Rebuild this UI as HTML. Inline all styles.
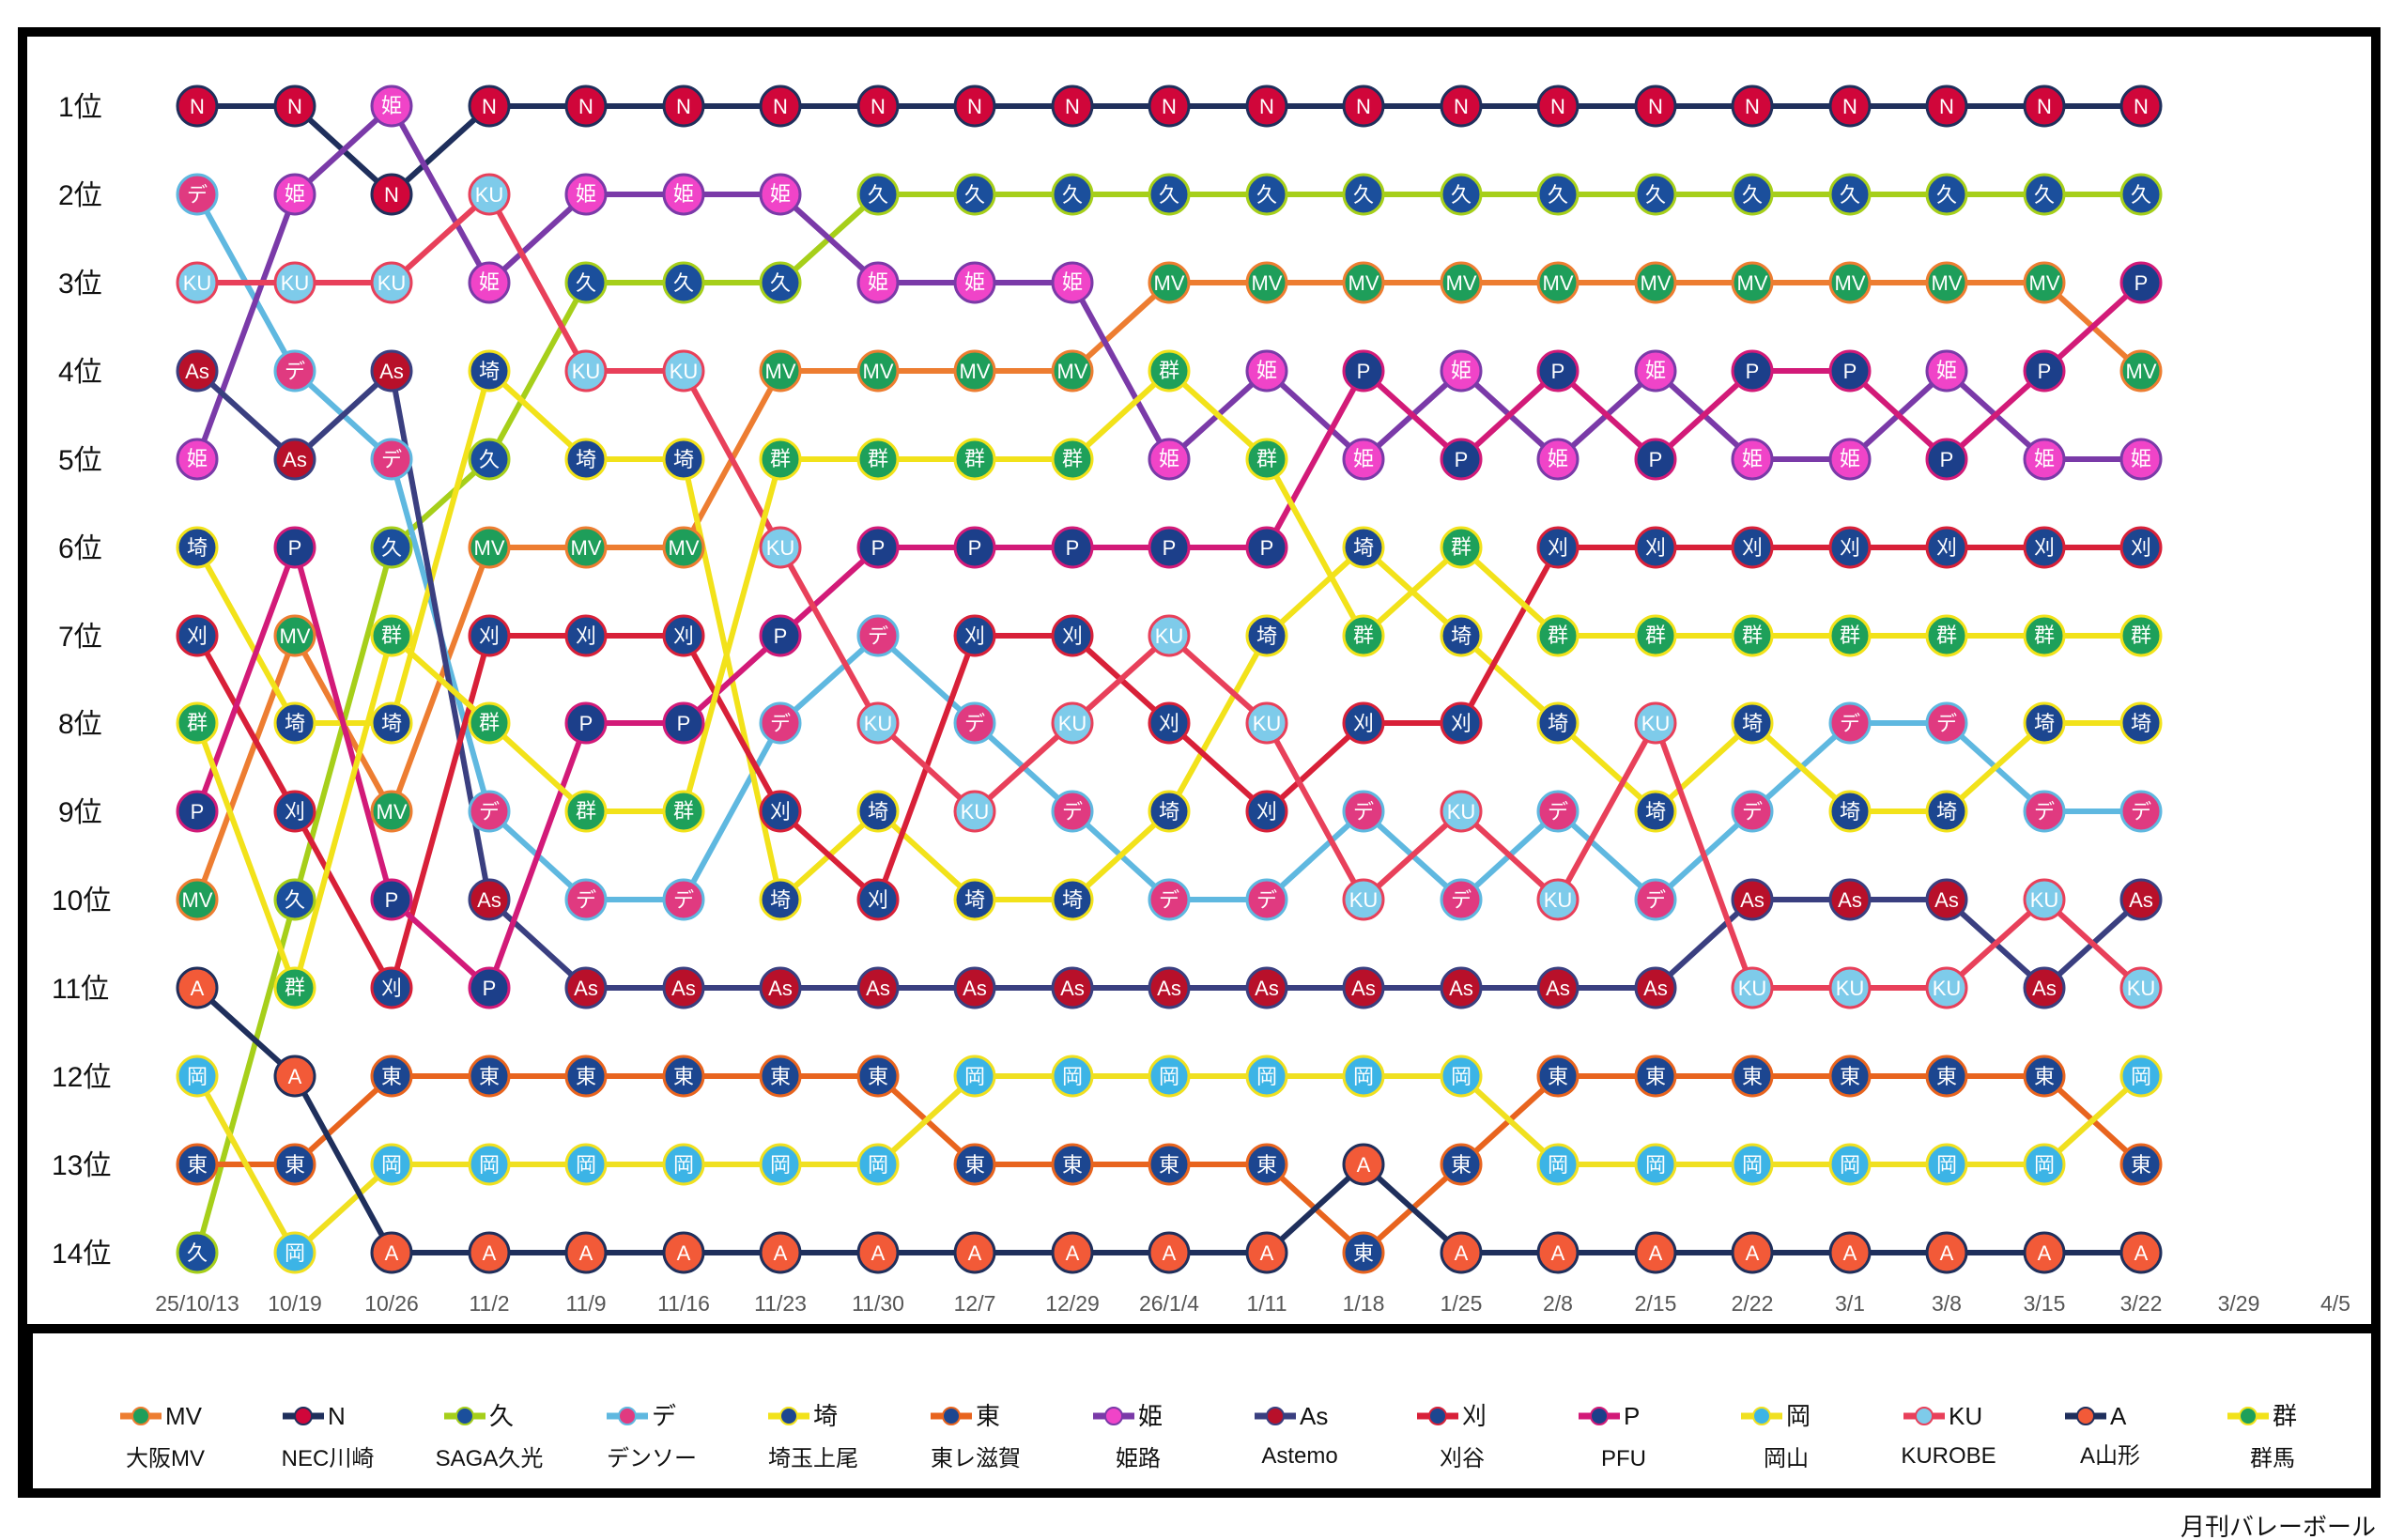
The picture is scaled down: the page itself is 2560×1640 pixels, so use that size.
<!DOCTYPE html>
<html><head><meta charset="utf-8"><style>
html,body{margin:0;padding:0;background:#fff;width:2560px;height:1640px;overflow:hidden}
svg{display:block}
text{font-family:"Liberation Sans","Noto Sans CJK JP",sans-serif}
.ln{fill:none;stroke-width:6;stroke-linejoin:round}
.c circle{stroke-width:3}
.c text{fill:#fff;font-size:22px;text-anchor:middle}
.rk{font-size:30px;fill:#111}
.dt{font-size:23px;fill:#555;text-anchor:middle}
.lg{font-size:26px;fill:#111}
.nm{font-size:24px;fill:#111;text-anchor:middle}
</style></head><body>
<svg width="2560" height="1640" viewBox="0 0 2560 1640" xmlns="http://www.w3.org/2000/svg">
<rect x="24" y="34" width="2506" height="1556" fill="none" stroke="#000" stroke-width="10"/>
<line x1="19" y1="1415" x2="2535" y2="1415" stroke="#000" stroke-width="10"/>
<rect x="19" y="1415" width="16" height="180" fill="#000"/>

<g class="rk">
<text x="62" y="124">1位</text><text x="62" y="218">2位</text><text x="62" y="312">3位</text><text x="62" y="406">4位</text><text x="62" y="500">5位</text><text x="62" y="594">6位</text><text x="62" y="688">7位</text><text x="62" y="781">8位</text><text x="62" y="875">9位</text><text x="55" y="969">10位</text><text x="55" y="1063">11位</text><text x="55" y="1157">12位</text><text x="55" y="1251">13位</text><text x="55" y="1345">14位</text>
</g>
<g class="dt">
<text x="210" y="1396">25/10/13</text><text x="314" y="1396">10/19</text><text x="417" y="1396">10/26</text><text x="521" y="1396">11/2</text><text x="624" y="1396">11/9</text><text x="728" y="1396">11/16</text><text x="831" y="1396">11/23</text><text x="935" y="1396">11/30</text><text x="1038" y="1396">12/7</text><text x="1142" y="1396">12/29</text><text x="1245" y="1396">26/1/4</text><text x="1349" y="1396">1/11</text><text x="1452" y="1396">1/18</text><text x="1556" y="1396">1/25</text><text x="1659" y="1396">2/8</text><text x="1763" y="1396">2/15</text><text x="1866" y="1396">2/22</text><text x="1970" y="1396">3/1</text><text x="2073" y="1396">3/8</text><text x="2177" y="1396">3/15</text><text x="2280" y="1396">3/22</text><text x="2384" y="1396">3/29</text><text x="2487" y="1396">4/5</text>
</g>

<!-- lines -->
<polyline class="ln" stroke="#ed7d31" points="210,958 314,677 417,864 521,583 624,583 728,583 831,395 935,395 1038,395 1142,395 1245,301 1349,301 1452,301 1556,301 1659,301 1763,301 1866,301 1970,301 2073,301 2177,301 2280,395"/>
<polyline class="ln" stroke="#1f2f5c" points="210,113 314,113 417,207 521,113 624,113 728,113 831,113 935,113 1038,113 1142,113 1245,113 1349,113 1452,113 1556,113 1659,113 1763,113 1866,113 1970,113 2073,113 2177,113 2280,113"/>
<polyline class="ln" stroke="#a6cf1a" points="210,1334 314,958 417,583 521,489 624,301 728,301 831,301 935,207 1038,207 1142,207 1245,207 1349,207 1452,207 1556,207 1659,207 1763,207 1866,207 1970,207 2073,207 2177,207 2280,207"/>
<polyline class="ln" stroke="#5fb8e0" points="210,207 314,395 417,489 521,864 624,958 728,958 831,770 935,677 1038,770 1142,864 1245,958 1349,958 1452,864 1556,958 1659,864 1763,958 1866,864 1970,770 2073,770 2177,864 2280,864"/>
<polyline class="ln" stroke="#f2e21a" points="210,583 314,770 417,770 521,395 624,489 728,489 831,958 935,864 1038,958 1142,958 1245,864 1349,677 1452,583 1556,677 1659,770 1763,864 1866,770 1970,864 2073,864 2177,770 2280,770"/>
<polyline class="ln" stroke="#e8641e" points="210,1240 314,1240 417,1146 521,1146 624,1146 728,1146 831,1146 935,1146 1038,1240 1142,1240 1245,1240 1349,1240 1452,1334 1556,1240 1659,1146 1763,1146 1866,1146 1970,1146 2073,1146 2177,1146 2280,1240"/>
<polyline class="ln" stroke="#7a3aa8" points="210,489 314,207 417,113 521,301 624,207 728,207 831,207 935,301 1038,301 1142,301 1245,489 1349,395 1452,489 1556,395 1659,489 1763,395 1866,489 1970,489 2073,395 2177,489 2280,489"/>
<polyline class="ln" stroke="#3a3f80" points="210,395 314,489 417,395 521,958 624,1052 728,1052 831,1052 935,1052 1038,1052 1142,1052 1245,1052 1349,1052 1452,1052 1556,1052 1659,1052 1763,1052 1866,958 1970,958 2073,958 2177,1052 2280,958"/>
<polyline class="ln" stroke="#d82038" points="210,677 314,864 417,1052 521,677 624,677 728,677 831,864 935,958 1038,677 1142,677 1245,770 1349,864 1452,770 1556,770 1659,583 1763,583 1866,583 1970,583 2073,583 2177,583 2280,583"/>
<polyline class="ln" stroke="#d21a78" points="210,864 314,583 417,958 521,1052 624,770 728,770 831,677 935,583 1038,583 1142,583 1245,583 1349,583 1452,395 1556,489 1659,395 1763,489 1866,395 1970,395 2073,489 2177,395 2280,301"/>
<polyline class="ln" stroke="#f0e020" points="210,1146 314,1334 417,1240 521,1240 624,1240 728,1240 831,1240 935,1240 1038,1146 1142,1146 1245,1146 1349,1146 1452,1146 1556,1146 1659,1240 1763,1240 1866,1240 1970,1240 2073,1240 2177,1240 2280,1146"/>
<polyline class="ln" stroke="#e8405a" points="210,301 314,301 417,301 521,207 624,395 728,395 831,583 935,770 1038,864 1142,770 1245,677 1349,770 1452,958 1556,864 1659,958 1763,770 1866,1052 1970,1052 2073,1052 2177,958 2280,1052"/>
<polyline class="ln" stroke="#1f2f5c" points="210,1052 314,1146 417,1334 521,1334 624,1334 728,1334 831,1334 935,1334 1038,1334 1142,1334 1245,1334 1349,1334 1452,1240 1556,1334 1659,1334 1763,1334 1866,1334 1970,1334 2073,1334 2177,1334 2280,1334"/>
<polyline class="ln" stroke="#f2e21a" points="210,770 314,1052 417,677 521,770 624,864 728,864 831,489 935,489 1038,489 1142,489 1245,395 1349,489 1452,677 1556,583 1659,677 1763,677 1866,677 1970,677 2073,677 2177,677 2280,677"/>

<!-- MV -->
<g class="c" fill="#1e9e5a" stroke="#ed7d31"><circle cx="210" cy="958" r="21"/><circle cx="314" cy="677" r="21"/><circle cx="417" cy="864" r="21"/><circle cx="521" cy="583" r="21"/><circle cx="624" cy="583" r="21"/><circle cx="728" cy="583" r="21"/><circle cx="831" cy="395" r="21"/><circle cx="935" cy="395" r="21"/><circle cx="1038" cy="395" r="21"/><circle cx="1142" cy="395" r="21"/><circle cx="1245" cy="301" r="21"/><circle cx="1349" cy="301" r="21"/><circle cx="1452" cy="301" r="21"/><circle cx="1556" cy="301" r="21"/><circle cx="1659" cy="301" r="21"/><circle cx="1763" cy="301" r="21"/><circle cx="1866" cy="301" r="21"/><circle cx="1970" cy="301" r="21"/><circle cx="2073" cy="301" r="21"/><circle cx="2177" cy="301" r="21"/><circle cx="2280" cy="395" r="21"/>
<g stroke="none"><text x="210" y="966">MV</text><text x="314" y="685">MV</text><text x="417" y="872">MV</text><text x="521" y="591">MV</text><text x="624" y="591">MV</text><text x="728" y="591">MV</text><text x="831" y="403">MV</text><text x="935" y="403">MV</text><text x="1038" y="403">MV</text><text x="1142" y="403">MV</text><text x="1245" y="309">MV</text><text x="1349" y="309">MV</text><text x="1452" y="309">MV</text><text x="1556" y="309">MV</text><text x="1659" y="309">MV</text><text x="1763" y="309">MV</text><text x="1866" y="309">MV</text><text x="1970" y="309">MV</text><text x="2073" y="309">MV</text><text x="2177" y="309">MV</text><text x="2280" y="403">MV</text></g></g>
<!-- N -->
<g class="c" fill="#d0063a" stroke="#1f2f5c"><circle cx="210" cy="113" r="21"/><circle cx="314" cy="113" r="21"/><circle cx="417" cy="207" r="21"/><circle cx="521" cy="113" r="21"/><circle cx="624" cy="113" r="21"/><circle cx="728" cy="113" r="21"/><circle cx="831" cy="113" r="21"/><circle cx="935" cy="113" r="21"/><circle cx="1038" cy="113" r="21"/><circle cx="1142" cy="113" r="21"/><circle cx="1245" cy="113" r="21"/><circle cx="1349" cy="113" r="21"/><circle cx="1452" cy="113" r="21"/><circle cx="1556" cy="113" r="21"/><circle cx="1659" cy="113" r="21"/><circle cx="1763" cy="113" r="21"/><circle cx="1866" cy="113" r="21"/><circle cx="1970" cy="113" r="21"/><circle cx="2073" cy="113" r="21"/><circle cx="2177" cy="113" r="21"/><circle cx="2280" cy="113" r="21"/>
<g stroke="none"><text x="210" y="121">N</text><text x="314" y="121">N</text><text x="417" y="215">N</text><text x="521" y="121">N</text><text x="624" y="121">N</text><text x="728" y="121">N</text><text x="831" y="121">N</text><text x="935" y="121">N</text><text x="1038" y="121">N</text><text x="1142" y="121">N</text><text x="1245" y="121">N</text><text x="1349" y="121">N</text><text x="1452" y="121">N</text><text x="1556" y="121">N</text><text x="1659" y="121">N</text><text x="1763" y="121">N</text><text x="1866" y="121">N</text><text x="1970" y="121">N</text><text x="2073" y="121">N</text><text x="2177" y="121">N</text><text x="2280" y="121">N</text></g></g>
<!-- 久 -->
<g class="c" fill="#1b4f9c" stroke="#a6cf1a"><circle cx="210" cy="1334" r="21"/><circle cx="314" cy="958" r="21"/><circle cx="417" cy="583" r="21"/><circle cx="521" cy="489" r="21"/><circle cx="624" cy="301" r="21"/><circle cx="728" cy="301" r="21"/><circle cx="831" cy="301" r="21"/><circle cx="935" cy="207" r="21"/><circle cx="1038" cy="207" r="21"/><circle cx="1142" cy="207" r="21"/><circle cx="1245" cy="207" r="21"/><circle cx="1349" cy="207" r="21"/><circle cx="1452" cy="207" r="21"/><circle cx="1556" cy="207" r="21"/><circle cx="1659" cy="207" r="21"/><circle cx="1763" cy="207" r="21"/><circle cx="1866" cy="207" r="21"/><circle cx="1970" cy="207" r="21"/><circle cx="2073" cy="207" r="21"/><circle cx="2177" cy="207" r="21"/><circle cx="2280" cy="207" r="21"/>
<g stroke="none"><text x="210" y="1342">久</text><text x="314" y="966">久</text><text x="417" y="591">久</text><text x="521" y="497">久</text><text x="624" y="309">久</text><text x="728" y="309">久</text><text x="831" y="309">久</text><text x="935" y="215">久</text><text x="1038" y="215">久</text><text x="1142" y="215">久</text><text x="1245" y="215">久</text><text x="1349" y="215">久</text><text x="1452" y="215">久</text><text x="1556" y="215">久</text><text x="1659" y="215">久</text><text x="1763" y="215">久</text><text x="1866" y="215">久</text><text x="1970" y="215">久</text><text x="2073" y="215">久</text><text x="2177" y="215">久</text><text x="2280" y="215">久</text></g></g>
<!-- デ -->
<g class="c" fill="#e03a80" stroke="#5fb8e0"><circle cx="210" cy="207" r="21"/><circle cx="314" cy="395" r="21"/><circle cx="417" cy="489" r="21"/><circle cx="521" cy="864" r="21"/><circle cx="624" cy="958" r="21"/><circle cx="728" cy="958" r="21"/><circle cx="831" cy="770" r="21"/><circle cx="935" cy="677" r="21"/><circle cx="1038" cy="770" r="21"/><circle cx="1142" cy="864" r="21"/><circle cx="1245" cy="958" r="21"/><circle cx="1349" cy="958" r="21"/><circle cx="1452" cy="864" r="21"/><circle cx="1556" cy="958" r="21"/><circle cx="1659" cy="864" r="21"/><circle cx="1763" cy="958" r="21"/><circle cx="1866" cy="864" r="21"/><circle cx="1970" cy="770" r="21"/><circle cx="2073" cy="770" r="21"/><circle cx="2177" cy="864" r="21"/><circle cx="2280" cy="864" r="21"/>
<g stroke="none"><text x="210" y="215">デ</text><text x="314" y="403">デ</text><text x="417" y="497">デ</text><text x="521" y="872">デ</text><text x="624" y="966">デ</text><text x="728" y="966">デ</text><text x="831" y="778">デ</text><text x="935" y="685">デ</text><text x="1038" y="778">デ</text><text x="1142" y="872">デ</text><text x="1245" y="966">デ</text><text x="1349" y="966">デ</text><text x="1452" y="872">デ</text><text x="1556" y="966">デ</text><text x="1659" y="872">デ</text><text x="1763" y="966">デ</text><text x="1866" y="872">デ</text><text x="1970" y="778">デ</text><text x="2073" y="778">デ</text><text x="2177" y="872">デ</text><text x="2280" y="872">デ</text></g></g>
<!-- 埼 -->
<g class="c" fill="#1c4690" stroke="#f2e21a"><circle cx="210" cy="583" r="21"/><circle cx="314" cy="770" r="21"/><circle cx="417" cy="770" r="21"/><circle cx="521" cy="395" r="21"/><circle cx="624" cy="489" r="21"/><circle cx="728" cy="489" r="21"/><circle cx="831" cy="958" r="21"/><circle cx="935" cy="864" r="21"/><circle cx="1038" cy="958" r="21"/><circle cx="1142" cy="958" r="21"/><circle cx="1245" cy="864" r="21"/><circle cx="1349" cy="677" r="21"/><circle cx="1452" cy="583" r="21"/><circle cx="1556" cy="677" r="21"/><circle cx="1659" cy="770" r="21"/><circle cx="1763" cy="864" r="21"/><circle cx="1866" cy="770" r="21"/><circle cx="1970" cy="864" r="21"/><circle cx="2073" cy="864" r="21"/><circle cx="2177" cy="770" r="21"/><circle cx="2280" cy="770" r="21"/>
<g stroke="none"><text x="210" y="591">埼</text><text x="314" y="778">埼</text><text x="417" y="778">埼</text><text x="521" y="403">埼</text><text x="624" y="497">埼</text><text x="728" y="497">埼</text><text x="831" y="966">埼</text><text x="935" y="872">埼</text><text x="1038" y="966">埼</text><text x="1142" y="966">埼</text><text x="1245" y="872">埼</text><text x="1349" y="685">埼</text><text x="1452" y="591">埼</text><text x="1556" y="685">埼</text><text x="1659" y="778">埼</text><text x="1763" y="872">埼</text><text x="1866" y="778">埼</text><text x="1970" y="872">埼</text><text x="2073" y="872">埼</text><text x="2177" y="778">埼</text><text x="2280" y="778">埼</text></g></g>
<!-- 東 -->
<g class="c" fill="#1c4690" stroke="#e8641e"><circle cx="210" cy="1240" r="21"/><circle cx="314" cy="1240" r="21"/><circle cx="417" cy="1146" r="21"/><circle cx="521" cy="1146" r="21"/><circle cx="624" cy="1146" r="21"/><circle cx="728" cy="1146" r="21"/><circle cx="831" cy="1146" r="21"/><circle cx="935" cy="1146" r="21"/><circle cx="1038" cy="1240" r="21"/><circle cx="1142" cy="1240" r="21"/><circle cx="1245" cy="1240" r="21"/><circle cx="1349" cy="1240" r="21"/><circle cx="1452" cy="1334" r="21"/><circle cx="1556" cy="1240" r="21"/><circle cx="1659" cy="1146" r="21"/><circle cx="1763" cy="1146" r="21"/><circle cx="1866" cy="1146" r="21"/><circle cx="1970" cy="1146" r="21"/><circle cx="2073" cy="1146" r="21"/><circle cx="2177" cy="1146" r="21"/><circle cx="2280" cy="1240" r="21"/>
<g stroke="none"><text x="210" y="1248">東</text><text x="314" y="1248">東</text><text x="417" y="1154">東</text><text x="521" y="1154">東</text><text x="624" y="1154">東</text><text x="728" y="1154">東</text><text x="831" y="1154">東</text><text x="935" y="1154">東</text><text x="1038" y="1248">東</text><text x="1142" y="1248">東</text><text x="1245" y="1248">東</text><text x="1349" y="1248">東</text><text x="1452" y="1342">東</text><text x="1556" y="1248">東</text><text x="1659" y="1154">東</text><text x="1763" y="1154">東</text><text x="1866" y="1154">東</text><text x="1970" y="1154">東</text><text x="2073" y="1154">東</text><text x="2177" y="1154">東</text><text x="2280" y="1248">東</text></g></g>
<!-- 姫 -->
<g class="c" fill="#f044c8" stroke="#7a3aa8"><circle cx="210" cy="489" r="21"/><circle cx="314" cy="207" r="21"/><circle cx="417" cy="113" r="21"/><circle cx="521" cy="301" r="21"/><circle cx="624" cy="207" r="21"/><circle cx="728" cy="207" r="21"/><circle cx="831" cy="207" r="21"/><circle cx="935" cy="301" r="21"/><circle cx="1038" cy="301" r="21"/><circle cx="1142" cy="301" r="21"/><circle cx="1245" cy="489" r="21"/><circle cx="1349" cy="395" r="21"/><circle cx="1452" cy="489" r="21"/><circle cx="1556" cy="395" r="21"/><circle cx="1659" cy="489" r="21"/><circle cx="1763" cy="395" r="21"/><circle cx="1866" cy="489" r="21"/><circle cx="1970" cy="489" r="21"/><circle cx="2073" cy="395" r="21"/><circle cx="2177" cy="489" r="21"/><circle cx="2280" cy="489" r="21"/>
<g stroke="none" style="font-size:19px"><text x="210" y="496">姫</text><text x="314" y="214">姫</text><text x="417" y="120">姫</text><text x="521" y="308">姫</text><text x="624" y="214">姫</text><text x="728" y="214">姫</text><text x="831" y="214">姫</text><text x="935" y="308">姫</text><text x="1038" y="308">姫</text><text x="1142" y="308">姫</text><text x="1245" y="496">姫</text><text x="1349" y="402">姫</text><text x="1452" y="496">姫</text><text x="1556" y="402">姫</text><text x="1659" y="496">姫</text><text x="1763" y="402">姫</text><text x="1866" y="496">姫</text><text x="1970" y="496">姫</text><text x="2073" y="402">姫</text><text x="2177" y="496">姫</text><text x="2280" y="496">姫</text></g></g>
<!-- As -->
<g class="c" fill="#b8102a" stroke="#3a3f80"><circle cx="210" cy="395" r="21"/><circle cx="314" cy="489" r="21"/><circle cx="417" cy="395" r="21"/><circle cx="521" cy="958" r="21"/><circle cx="624" cy="1052" r="21"/><circle cx="728" cy="1052" r="21"/><circle cx="831" cy="1052" r="21"/><circle cx="935" cy="1052" r="21"/><circle cx="1038" cy="1052" r="21"/><circle cx="1142" cy="1052" r="21"/><circle cx="1245" cy="1052" r="21"/><circle cx="1349" cy="1052" r="21"/><circle cx="1452" cy="1052" r="21"/><circle cx="1556" cy="1052" r="21"/><circle cx="1659" cy="1052" r="21"/><circle cx="1763" cy="1052" r="21"/><circle cx="1866" cy="958" r="21"/><circle cx="1970" cy="958" r="21"/><circle cx="2073" cy="958" r="21"/><circle cx="2177" cy="1052" r="21"/><circle cx="2280" cy="958" r="21"/>
<g stroke="none"><text x="210" y="403">As</text><text x="314" y="497">As</text><text x="417" y="403">As</text><text x="521" y="966">As</text><text x="624" y="1060">As</text><text x="728" y="1060">As</text><text x="831" y="1060">As</text><text x="935" y="1060">As</text><text x="1038" y="1060">As</text><text x="1142" y="1060">As</text><text x="1245" y="1060">As</text><text x="1349" y="1060">As</text><text x="1452" y="1060">As</text><text x="1556" y="1060">As</text><text x="1659" y="1060">As</text><text x="1763" y="1060">As</text><text x="1866" y="966">As</text><text x="1970" y="966">As</text><text x="2073" y="966">As</text><text x="2177" y="1060">As</text><text x="2280" y="966">As</text></g></g>
<!-- 刈 -->
<g class="c" fill="#1c4690" stroke="#d82038"><circle cx="210" cy="677" r="21"/><circle cx="314" cy="864" r="21"/><circle cx="417" cy="1052" r="21"/><circle cx="521" cy="677" r="21"/><circle cx="624" cy="677" r="21"/><circle cx="728" cy="677" r="21"/><circle cx="831" cy="864" r="21"/><circle cx="935" cy="958" r="21"/><circle cx="1038" cy="677" r="21"/><circle cx="1142" cy="677" r="21"/><circle cx="1245" cy="770" r="21"/><circle cx="1349" cy="864" r="21"/><circle cx="1452" cy="770" r="21"/><circle cx="1556" cy="770" r="21"/><circle cx="1659" cy="583" r="21"/><circle cx="1763" cy="583" r="21"/><circle cx="1866" cy="583" r="21"/><circle cx="1970" cy="583" r="21"/><circle cx="2073" cy="583" r="21"/><circle cx="2177" cy="583" r="21"/><circle cx="2280" cy="583" r="21"/>
<g stroke="none"><text x="210" y="685">刈</text><text x="314" y="872">刈</text><text x="417" y="1060">刈</text><text x="521" y="685">刈</text><text x="624" y="685">刈</text><text x="728" y="685">刈</text><text x="831" y="872">刈</text><text x="935" y="966">刈</text><text x="1038" y="685">刈</text><text x="1142" y="685">刈</text><text x="1245" y="778">刈</text><text x="1349" y="872">刈</text><text x="1452" y="778">刈</text><text x="1556" y="778">刈</text><text x="1659" y="591">刈</text><text x="1763" y="591">刈</text><text x="1866" y="591">刈</text><text x="1970" y="591">刈</text><text x="2073" y="591">刈</text><text x="2177" y="591">刈</text><text x="2280" y="591">刈</text></g></g>
<!-- P -->
<g class="c" fill="#1c3f8a" stroke="#d21a78"><circle cx="210" cy="864" r="21"/><circle cx="314" cy="583" r="21"/><circle cx="417" cy="958" r="21"/><circle cx="521" cy="1052" r="21"/><circle cx="624" cy="770" r="21"/><circle cx="728" cy="770" r="21"/><circle cx="831" cy="677" r="21"/><circle cx="935" cy="583" r="21"/><circle cx="1038" cy="583" r="21"/><circle cx="1142" cy="583" r="21"/><circle cx="1245" cy="583" r="21"/><circle cx="1349" cy="583" r="21"/><circle cx="1452" cy="395" r="21"/><circle cx="1556" cy="489" r="21"/><circle cx="1659" cy="395" r="21"/><circle cx="1763" cy="489" r="21"/><circle cx="1866" cy="395" r="21"/><circle cx="1970" cy="395" r="21"/><circle cx="2073" cy="489" r="21"/><circle cx="2177" cy="395" r="21"/><circle cx="2280" cy="301" r="21"/>
<g stroke="none"><text x="210" y="872">P</text><text x="314" y="591">P</text><text x="417" y="966">P</text><text x="521" y="1060">P</text><text x="624" y="778">P</text><text x="728" y="778">P</text><text x="831" y="685">P</text><text x="935" y="591">P</text><text x="1038" y="591">P</text><text x="1142" y="591">P</text><text x="1245" y="591">P</text><text x="1349" y="591">P</text><text x="1452" y="403">P</text><text x="1556" y="497">P</text><text x="1659" y="403">P</text><text x="1763" y="497">P</text><text x="1866" y="403">P</text><text x="1970" y="403">P</text><text x="2073" y="497">P</text><text x="2177" y="403">P</text><text x="2280" y="309">P</text></g></g>
<!-- 岡 -->
<g class="c" fill="#3cb4e6" stroke="#f0e020"><circle cx="210" cy="1146" r="21"/><circle cx="314" cy="1334" r="21"/><circle cx="417" cy="1240" r="21"/><circle cx="521" cy="1240" r="21"/><circle cx="624" cy="1240" r="21"/><circle cx="728" cy="1240" r="21"/><circle cx="831" cy="1240" r="21"/><circle cx="935" cy="1240" r="21"/><circle cx="1038" cy="1146" r="21"/><circle cx="1142" cy="1146" r="21"/><circle cx="1245" cy="1146" r="21"/><circle cx="1349" cy="1146" r="21"/><circle cx="1452" cy="1146" r="21"/><circle cx="1556" cy="1146" r="21"/><circle cx="1659" cy="1240" r="21"/><circle cx="1763" cy="1240" r="21"/><circle cx="1866" cy="1240" r="21"/><circle cx="1970" cy="1240" r="21"/><circle cx="2073" cy="1240" r="21"/><circle cx="2177" cy="1240" r="21"/><circle cx="2280" cy="1146" r="21"/>
<g stroke="none"><text x="210" y="1154">岡</text><text x="314" y="1342">岡</text><text x="417" y="1248">岡</text><text x="521" y="1248">岡</text><text x="624" y="1248">岡</text><text x="728" y="1248">岡</text><text x="831" y="1248">岡</text><text x="935" y="1248">岡</text><text x="1038" y="1154">岡</text><text x="1142" y="1154">岡</text><text x="1245" y="1154">岡</text><text x="1349" y="1154">岡</text><text x="1452" y="1154">岡</text><text x="1556" y="1154">岡</text><text x="1659" y="1248">岡</text><text x="1763" y="1248">岡</text><text x="1866" y="1248">岡</text><text x="1970" y="1248">岡</text><text x="2073" y="1248">岡</text><text x="2177" y="1248">岡</text><text x="2280" y="1154">岡</text></g></g>
<!-- KU -->
<g class="c" fill="#7ecbea" stroke="#e8405a"><circle cx="210" cy="301" r="21"/><circle cx="314" cy="301" r="21"/><circle cx="417" cy="301" r="21"/><circle cx="521" cy="207" r="21"/><circle cx="624" cy="395" r="21"/><circle cx="728" cy="395" r="21"/><circle cx="831" cy="583" r="21"/><circle cx="935" cy="770" r="21"/><circle cx="1038" cy="864" r="21"/><circle cx="1142" cy="770" r="21"/><circle cx="1245" cy="677" r="21"/><circle cx="1349" cy="770" r="21"/><circle cx="1452" cy="958" r="21"/><circle cx="1556" cy="864" r="21"/><circle cx="1659" cy="958" r="21"/><circle cx="1763" cy="770" r="21"/><circle cx="1866" cy="1052" r="21"/><circle cx="1970" cy="1052" r="21"/><circle cx="2073" cy="1052" r="21"/><circle cx="2177" cy="958" r="21"/><circle cx="2280" cy="1052" r="21"/>
<g stroke="none"><text x="210" y="309">KU</text><text x="314" y="309">KU</text><text x="417" y="309">KU</text><text x="521" y="215">KU</text><text x="624" y="403">KU</text><text x="728" y="403">KU</text><text x="831" y="591">KU</text><text x="935" y="778">KU</text><text x="1038" y="872">KU</text><text x="1142" y="778">KU</text><text x="1245" y="685">KU</text><text x="1349" y="778">KU</text><text x="1452" y="966">KU</text><text x="1556" y="872">KU</text><text x="1659" y="966">KU</text><text x="1763" y="778">KU</text><text x="1866" y="1060">KU</text><text x="1970" y="1060">KU</text><text x="2073" y="1060">KU</text><text x="2177" y="966">KU</text><text x="2280" y="1060">KU</text></g></g>
<!-- A -->
<g class="c" fill="#f25a38" stroke="#1f2f5c"><circle cx="210" cy="1052" r="21"/><circle cx="314" cy="1146" r="21"/><circle cx="417" cy="1334" r="21"/><circle cx="521" cy="1334" r="21"/><circle cx="624" cy="1334" r="21"/><circle cx="728" cy="1334" r="21"/><circle cx="831" cy="1334" r="21"/><circle cx="935" cy="1334" r="21"/><circle cx="1038" cy="1334" r="21"/><circle cx="1142" cy="1334" r="21"/><circle cx="1245" cy="1334" r="21"/><circle cx="1349" cy="1334" r="21"/><circle cx="1452" cy="1240" r="21"/><circle cx="1556" cy="1334" r="21"/><circle cx="1659" cy="1334" r="21"/><circle cx="1763" cy="1334" r="21"/><circle cx="1866" cy="1334" r="21"/><circle cx="1970" cy="1334" r="21"/><circle cx="2073" cy="1334" r="21"/><circle cx="2177" cy="1334" r="21"/><circle cx="2280" cy="1334" r="21"/>
<g stroke="none"><text x="210" y="1060">A</text><text x="314" y="1154">A</text><text x="417" y="1342">A</text><text x="521" y="1342">A</text><text x="624" y="1342">A</text><text x="728" y="1342">A</text><text x="831" y="1342">A</text><text x="935" y="1342">A</text><text x="1038" y="1342">A</text><text x="1142" y="1342">A</text><text x="1245" y="1342">A</text><text x="1349" y="1342">A</text><text x="1452" y="1248">A</text><text x="1556" y="1342">A</text><text x="1659" y="1342">A</text><text x="1763" y="1342">A</text><text x="1866" y="1342">A</text><text x="1970" y="1342">A</text><text x="2073" y="1342">A</text><text x="2177" y="1342">A</text><text x="2280" y="1342">A</text></g></g>
<!-- 群 -->
<g class="c" fill="#1ea05a" stroke="#f2e21a"><circle cx="210" cy="770" r="21"/><circle cx="314" cy="1052" r="21"/><circle cx="417" cy="677" r="21"/><circle cx="521" cy="770" r="21"/><circle cx="624" cy="864" r="21"/><circle cx="728" cy="864" r="21"/><circle cx="831" cy="489" r="21"/><circle cx="935" cy="489" r="21"/><circle cx="1038" cy="489" r="21"/><circle cx="1142" cy="489" r="21"/><circle cx="1245" cy="395" r="21"/><circle cx="1349" cy="489" r="21"/><circle cx="1452" cy="677" r="21"/><circle cx="1556" cy="583" r="21"/><circle cx="1659" cy="677" r="21"/><circle cx="1763" cy="677" r="21"/><circle cx="1866" cy="677" r="21"/><circle cx="1970" cy="677" r="21"/><circle cx="2073" cy="677" r="21"/><circle cx="2177" cy="677" r="21"/><circle cx="2280" cy="677" r="21"/>
<g stroke="none" style="font-size:18px"><text x="210" y="777">群</text><text x="314" y="1059">群</text><text x="417" y="684">群</text><text x="521" y="777">群</text><text x="624" y="871">群</text><text x="728" y="871">群</text><text x="831" y="496">群</text><text x="935" y="496">群</text><text x="1038" y="496">群</text><text x="1142" y="496">群</text><text x="1245" y="402">群</text><text x="1349" y="496">群</text><text x="1452" y="684">群</text><text x="1556" y="590">群</text><text x="1659" y="684">群</text><text x="1763" y="684">群</text><text x="1866" y="684">群</text><text x="1970" y="684">群</text><text x="2073" y="684">群</text><text x="2177" y="684">群</text><text x="2280" y="684">群</text></g></g>

<!-- legend -->
<g>
<g transform="translate(176,0)"><line x1="-48" y1="1508" x2="-4" y2="1508" stroke="#ed7d31" stroke-width="7"/><circle cx="-26" cy="1508" r="9" fill="#1e9e5a" stroke="#ed7d31" stroke-width="2"/><text class="lg" x="0" y="1517">MV</text><text class="nm" x="0" y="1561">大阪MV</text></g>
<g transform="translate(349,0)"><line x1="-48" y1="1508" x2="-4" y2="1508" stroke="#1f2f5c" stroke-width="7"/><circle cx="-26" cy="1508" r="9" fill="#d0063a" stroke="#1f2f5c" stroke-width="2"/><text class="lg" x="0" y="1517">N</text><text class="nm" x="0" y="1561">NEC川崎</text></g>
<g transform="translate(521,0)"><line x1="-48" y1="1508" x2="-4" y2="1508" stroke="#a6cf1a" stroke-width="7"/><circle cx="-26" cy="1508" r="9" fill="#1b4f9c" stroke="#a6cf1a" stroke-width="2"/><text class="lg" x="0" y="1517">久</text><text class="nm" x="0" y="1561">SAGA久光</text></g>
<g transform="translate(694,0)"><line x1="-48" y1="1508" x2="-4" y2="1508" stroke="#5fb8e0" stroke-width="7"/><circle cx="-26" cy="1508" r="9" fill="#e03a80" stroke="#5fb8e0" stroke-width="2"/><text class="lg" x="0" y="1517">デ</text><text class="nm" x="0" y="1561">デンソー</text></g>
<g transform="translate(866,0)"><line x1="-48" y1="1508" x2="-4" y2="1508" stroke="#f2e21a" stroke-width="7"/><circle cx="-26" cy="1508" r="9" fill="#1c4690" stroke="#f2e21a" stroke-width="2"/><text class="lg" x="0" y="1517">埼</text><text class="nm" x="0" y="1561">埼玉上尾</text></g>
<g transform="translate(1039,0)"><line x1="-48" y1="1508" x2="-4" y2="1508" stroke="#e8641e" stroke-width="7"/><circle cx="-26" cy="1508" r="9" fill="#1c4690" stroke="#e8641e" stroke-width="2"/><text class="lg" x="0" y="1517">東</text><text class="nm" x="0" y="1561">東レ滋賀</text></g>
<g transform="translate(1212,0)"><line x1="-48" y1="1508" x2="-4" y2="1508" stroke="#7a3aa8" stroke-width="7"/><circle cx="-26" cy="1508" r="9" fill="#f044c8" stroke="#7a3aa8" stroke-width="2"/><text class="lg" x="0" y="1517">姫</text><text class="nm" x="0" y="1561">姫路</text></g>
<g transform="translate(1384,0)"><line x1="-48" y1="1508" x2="-4" y2="1508" stroke="#3a3f80" stroke-width="7"/><circle cx="-26" cy="1508" r="9" fill="#b8102a" stroke="#3a3f80" stroke-width="2"/><text class="lg" x="0" y="1517">As</text><text class="nm" x="0" y="1558">Astemo</text></g>
<g transform="translate(1557,0)"><line x1="-48" y1="1508" x2="-4" y2="1508" stroke="#d82038" stroke-width="7"/><circle cx="-26" cy="1508" r="9" fill="#1c4690" stroke="#d82038" stroke-width="2"/><text class="lg" x="0" y="1517">刈</text><text class="nm" x="0" y="1561">刈谷</text></g>
<g transform="translate(1729,0)"><line x1="-48" y1="1508" x2="-4" y2="1508" stroke="#d21a78" stroke-width="7"/><circle cx="-26" cy="1508" r="9" fill="#1c3f8a" stroke="#d21a78" stroke-width="2"/><text class="lg" x="0" y="1517">P</text><text class="nm" x="0" y="1561">PFU</text></g>
<g transform="translate(1902,0)"><line x1="-48" y1="1508" x2="-4" y2="1508" stroke="#f0e020" stroke-width="7"/><circle cx="-26" cy="1508" r="9" fill="#3cb4e6" stroke="#f0e020" stroke-width="2"/><text class="lg" x="0" y="1517">岡</text><text class="nm" x="0" y="1561">岡山</text></g>
<g transform="translate(2075,0)"><line x1="-48" y1="1508" x2="-4" y2="1508" stroke="#e8405a" stroke-width="7"/><circle cx="-26" cy="1508" r="9" fill="#7ecbea" stroke="#e8405a" stroke-width="2"/><text class="lg" x="0" y="1517">KU</text><text class="nm" x="0" y="1558">KUROBE</text></g>
<g transform="translate(2247,0)"><line x1="-48" y1="1508" x2="-4" y2="1508" stroke="#1f2f5c" stroke-width="7"/><circle cx="-26" cy="1508" r="9" fill="#f25a38" stroke="#1f2f5c" stroke-width="2"/><text class="lg" x="0" y="1517">A</text><text class="nm" x="0" y="1558">A山形</text></g>
<g transform="translate(2420,0)"><line x1="-48" y1="1508" x2="-4" y2="1508" stroke="#f2e21a" stroke-width="7"/><circle cx="-26" cy="1508" r="9" fill="#1ea05a" stroke="#f2e21a" stroke-width="2"/><text class="lg" x="0" y="1517">群</text><text class="nm" x="0" y="1561">群馬</text></g>
</g>
<text x="2322" y="1635" style="font-size:26px;fill:#111">月刊バレーボール</text>
</svg>
</body></html>
